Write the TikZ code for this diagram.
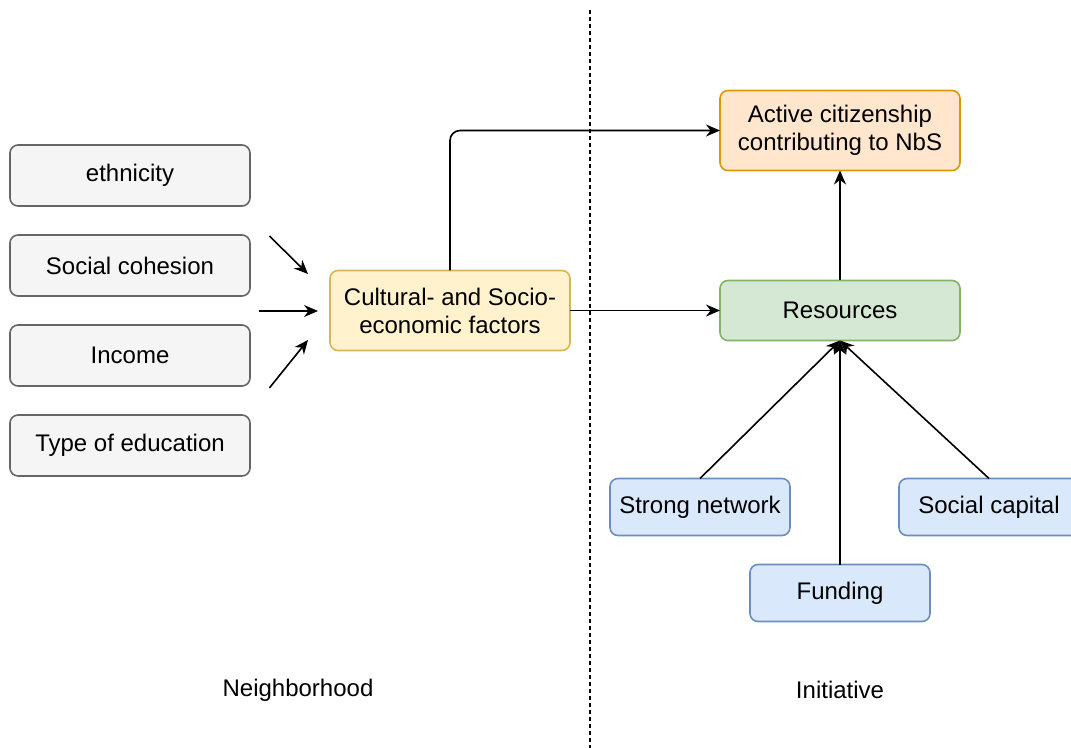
\documentclass[tikz,border=0pt]{standalone}
\usepackage{fontspec}
\setmainfont{Liberation Sans}
\usepackage{tikz}
\usetikzlibrary{shapes,arrows.meta,positioning,calc}
\definecolor{grayfill}{HTML}{F5F5F5}
\definecolor{grayline}{HTML}{666666}
\definecolor{yellowfill}{HTML}{FFF2CC}
\definecolor{yellowline}{HTML}{D6B656}
\definecolor{orangefill}{HTML}{FFE6CC}
\definecolor{orangeline}{HTML}{D79B00}
\definecolor{greenfill}{HTML}{D5E8D4}
\definecolor{greenline}{HTML}{82B366}
\definecolor{bluefill}{HTML}{DAE8FC}
\definecolor{blueline}{HTML}{6C8EBF}
\tikzstyle{factor} = [rectangle, rounded corners=4pt, minimum width=120pt, minimum height=30.5pt, text centered, draw=grayline, fill=grayfill, line width=0.8pt, outer sep=0pt]
\tikzstyle{socio} = [rectangle, rounded corners=4pt, minimum width=120pt, minimum height=40pt, align=center, draw=yellowline, fill=yellowfill, line width=0.8pt, outer sep=0pt]
\tikzstyle{outcome} = [rectangle, rounded corners=4pt, minimum width=120pt, minimum height=40pt, align=center, draw=orangeline, fill=orangefill, line width=0.8pt, outer sep=0pt]
\tikzstyle{resource} = [rectangle, rounded corners=4pt, minimum width=120pt, minimum height=30pt, text centered, draw=greenline, fill=greenfill, line width=0.8pt, outer sep=0pt]
\tikzstyle{support} = [rectangle, rounded corners=4pt, minimum width=90pt, minimum height=28.5pt, text centered, draw=blueline, fill=bluefill, line width=0.8pt, outer sep=0pt]
\tikzstyle{arrow} = [thick,-{Stealth[length=7pt,width=6pt]}]
\tikzstyle{divider} = [dash pattern=on 2pt off 1.5pt, line width=0.7pt]

\begin{document}
\begin{tikzpicture}[x=1pt, y=1pt, font=\fontsize{12}{14}\selectfont] % Units in pt, default font size

\useasboundingbox (0,0) rectangle (535.5,-374);

% Place the nodes on the diagram
\node(ethnicity)   [factor]                          at (65,-87.75) {ethnicity};
\node(cohesion)    [factor, below=14.5pt of ethnicity]              {Social cohesion};
\node(income)      [factor, below=14.5pt of cohesion]               {Income};
\node(education)   [factor, below=14.5pt of income]                 {Type of education};
\coordinate(mid)   at ($(cohesion.east)!0.5!(income.east)$);
\node(cultural)    [socio,    right=40pt of mid]                    {Cultural- and Socio-\\economic factors};
\node(resources)   [resource, right=75pt of cultural]               {Resources};
\node(active)      [outcome,  above=55pt of resources]              {Active citizenship\\contributing to NbS};
\node(funding)     [support,  below=112pt of resources]             {Funding};
\node(strong)      [support]  at ($(funding)+(-70,43)$)             {Strong network};
\node(social)      [support]  at ($(funding)+(74.5,43)$)            {Social capital};

% Labels of the two sides
\node(neighborhood) at (149,-345) {Neighborhood};
\node(initiative)   at (420,-345) {Initiative};

% Ends of the loose arrows and of the divider
\coordinate(in1s) at (134.7,-118);   \coordinate(in1e) at (154,-137);
\coordinate(in2s) at (129.5,-155.5); \coordinate(in2e) at (159,-155.5);
\coordinate(in3s) at (134.7,-194);   \coordinate(in3e) at (154,-170);
\coordinate(divtop) at (295,-5);     \coordinate(divbot) at (295,-374);

% Connect the nodes with arrows
\draw [divider] (divtop) -- (divbot);
\draw [arrow] (in1s) -- (in1e);
\draw [arrow] (in2s) -- (in2e);
\draw [arrow] (in3s) -- (in3e);
\draw [arrow, rounded corners=5pt] (cultural.north) |- (active.west);
\draw [arrow] (cultural)      --  (resources);
\draw [arrow] (resources)     --  (active);
\draw [arrow] (strong.north)  --  (resources.south);
\draw [arrow] (funding)       --  (resources);
\draw [arrow] (social.north)  --  (resources.south);

\end{tikzpicture}
\end{document}
